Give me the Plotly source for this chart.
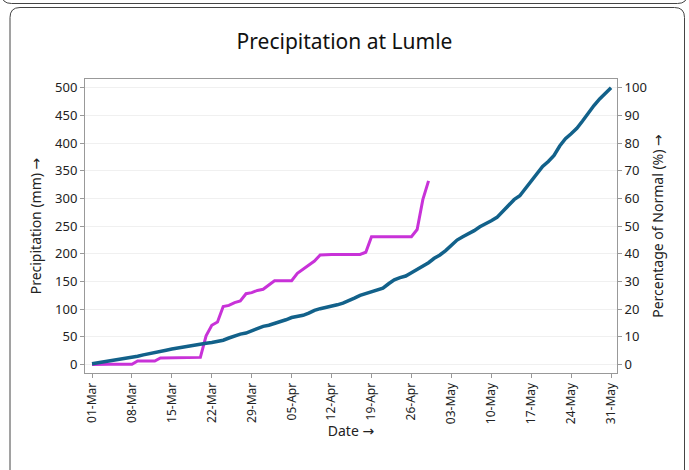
import pandas as pd
import plotly.graph_objects as go

# ---- data ----
start_date = "2023-03-01"
# cumulative normal precipitation, percent of seasonal normal (01-Mar .. 31-May)
normal_pct = [0.3, 0.6, 1.0, 1.4, 1.7, 2.0, 2.3, 2.7, 3.0, 3.5, 4.0, 4.4, 4.8, 5.2, 5.6,
              6.0, 6.4, 6.8, 7.1, 7.4, 7.7, 8.0, 8.4, 8.8, 9.6, 10.4, 11.0, 11.4, 12.2, 13.0,
              13.8, 14.2, 14.8, 15.4, 16.2, 17.0, 17.4, 17.8, 18.6, 19.6, 20.2, 20.6, 21.0,
              21.6, 22.2, 23.0, 24.0, 25.0, 25.6, 26.2, 26.8, 27.6, 29.2, 30.6, 31.4, 32.0,
              33.2, 34.4, 35.6, 36.8, 38.4, 39.6, 41.2, 43.2, 45.0, 46.2, 47.2, 48.4, 49.8,
              50.8, 52.0, 53.2, 55.2, 57.6, 59.6, 61.0, 63.6, 66.6, 69.0, 71.6, 73.4, 75.6,
              79.0, 81.6, 83.4, 85.4, 88.0, 91.0, 93.6, 96.0, 98.0, 100.0]
# cumulative observed precipitation (mm), 01-Mar .. 29-Apr
precip_mm = [0, 0.5, 0.5, 0.5, 0.5, 0.5, 0.5, 0.5, 6.5, 6.5, 6.5, 6.5, 12, 12, 12, 12, 12,
             13, 13, 13, 52, 71, 77, 105, 107, 112, 115, 128, 130, 134, 136, 143, 151.5,
             151.5, 151.5, 151.5, 165, 172, 179, 187, 198, 199, 199, 199, 199, 199, 199, 199,
             203, 231, 231, 231, 231, 231, 231, 231, 231, 244, 298, 332]
y_ticks_mm = [0, 50, 100, 150, 200, 250, 300, 350, 400, 450, 500]
y_ticks_pct = [0, 10, 20, 30, 40, 50, 60, 70, 80, 90, 100]
x_title = "Date"
y_title = "Precipitation (mm)"
y2_title = "Percentage of Normal (%)"

normal_dates = pd.date_range(start_date, periods=len(normal_pct), freq="D")
precip_dates = pd.date_range(start_date, periods=len(precip_mm), freq="D")

W, H = 689, 470
ML, MR, MT, MB = 85, 72, 79, 97
PW, PH = W - ML - MR, H - MT - MB
FONT = "Noto Sans"
ARROW = " <span style='font-family:DejaVu Sans'>→</span>"


def px(x):
    return (x - ML) / PW


def py(y):
    return (H - MB - y) / PH


def rounded_rect(x0, y0, x1, y1, r):
    rx, ry = r / PW, r / PH
    X0, X1 = px(x0), px(x1)
    Y0, Y1 = py(y0), py(y1)  # Y0 top, Y1 bottom
    return (f"M {X0+rx},{Y0} L {X1-rx},{Y0} Q {X1},{Y0} {X1},{Y0-ry} "
            f"L {X1},{Y1+ry} Q {X1},{Y1} {X1-rx},{Y1} L {X0+rx},{Y1} "
            f"Q {X0},{Y1} {X0},{Y1+ry} L {X0},{Y0-ry} Q {X0},{Y0} {X0+rx},{Y0} Z")


fig = go.Figure()
fig.add_trace(go.Scatter(x=normal_dates, y=normal_pct, mode="lines", yaxis="y2",
                         line=dict(color="#12618a", width=3.5), name="Normal"))
fig.add_trace(go.Scatter(x=precip_dates, y=precip_mm, mode="lines", yaxis="y",
                         line=dict(color="#c832d8", width=3), name="Precipitation"))

axis_font = dict(family=FONT, size=13, color="#222")
title_font = dict(family=FONT, size=14, color="#222")
fig.update_layout(
    template="none",
    width=W, height=H, autosize=False,
    margin=dict(l=ML, r=MR, t=MT, b=MB, autoexpand=False),
    paper_bgcolor="white", plot_bgcolor="white",
    showlegend=False,
    font=dict(family=FONT, color="#222"),
    title=dict(text="Precipitation at Lumle", x=0.5, xanchor="center",
               y=1 - 42 / H, yanchor="middle", yref="container",
               font=dict(family=FONT, size=21, color="#111")),
    xaxis=dict(
        type="date", automargin=False,
        range=["2023-02-27 18:30", "2023-06-01 01:00"],
        tick0=start_date, dtick=7 * 86400000, tickformat="%d-%b",
        tickangle=-90, tickfont=dict(family=FONT, size=12, color="#222"),
        ticks="outside", ticklen=4, tickcolor="#999",
        showline=True, linecolor="#999", linewidth=1, mirror=True,
        showgrid=False, zeroline=False,
        title=dict(text=x_title + ARROW, font=title_font, standoff=3),
    ),
    yaxis=dict(
        automargin=False,
        range=[-15.2, 516], tickvals=y_ticks_mm, tickfont=axis_font,
        ticks="outside", ticklen=4, tickcolor="#999",
        showline=True, linecolor="#999", linewidth=1, mirror=True,
        showgrid=True, gridcolor="#f0f0f0", gridwidth=1, zeroline=False,
        title=dict(text=y_title + ARROW, font=title_font, standoff=10),
    ),
    yaxis2=dict(
        automargin=False,
        range=[-3.04, 103.2], tickvals=y_ticks_pct, tickfont=axis_font,
        overlaying="y", side="right",
        ticks="outside", ticklen=4, tickcolor="#999",
        showline=True, linecolor="#999", linewidth=1,
        showgrid=False, zeroline=False,
        title=dict(text=y2_title + ARROW, font=title_font, standoff=7),
    ),
    shapes=[
        dict(type="path", xref="paper", yref="paper", layer="above",
             path=rounded_rect(10, 7.5, 684.5, 500, 10),
             line=dict(color="#444", width=1)),
        dict(type="path", xref="paper", yref="paper", layer="above",
             path=rounded_rect(1.5, -40, 687.5, 3.5, 10),
             line=dict(color="#444", width=1)),
    ],
)

fig.write_html("out.html", config={"displayModeBar": False},
               post_script="document.body.style.margin='0';")
